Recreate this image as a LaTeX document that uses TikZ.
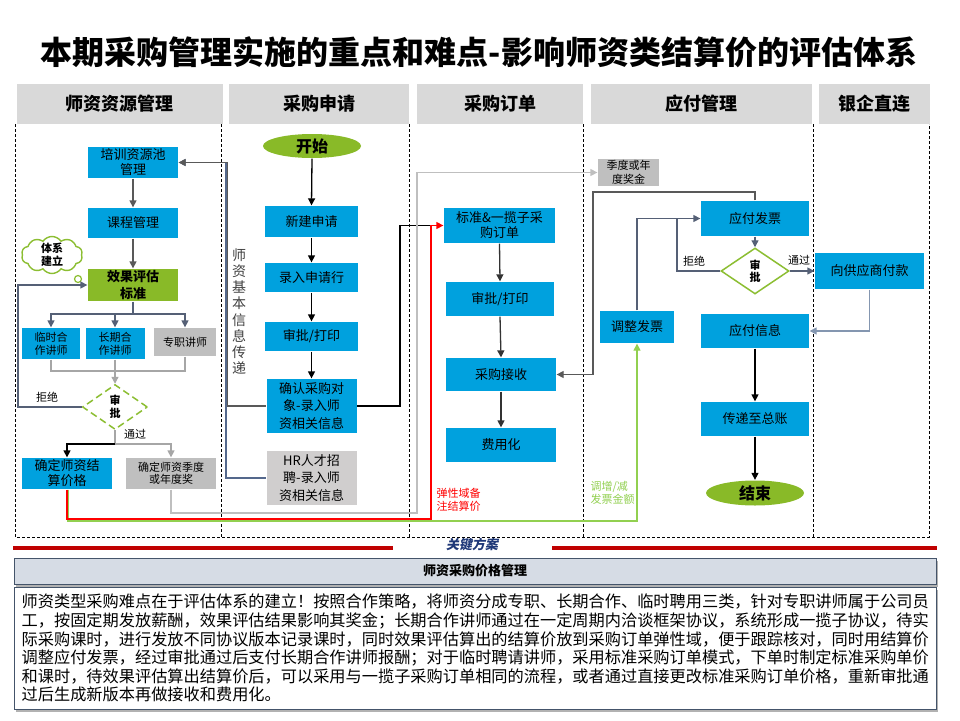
\documentclass[tikz,border=0pt]{standalone}
\usepackage{fontspec}
\setmainfont{Noto Sans CJK SC}
\newfontfamily\cjksl{Noto Sans CJK SC}[FakeSlant=0.2,BoldFeatures={FakeSlant=0.2}]
\usetikzlibrary{arrows.meta,shapes.geometric,shapes.symbols,shadows}
\definecolor{bxblue}{RGB}{0,161,222}
\definecolor{bxgreen}{RGB}{137,186,40}
\definecolor{cgreen}{RGB}{140,190,50}
\definecolor{gybox}{RGB}{191,191,191}
\definecolor{hrgray}{RGB}{208,206,206}
\definecolor{hdrgray}{RGB}{217,217,217}
\definecolor{slate}{RGB}{85,96,118}
\definecolor{slatetwo}{RGB}{84,104,140}
\definecolor{slatethree}{RGB}{132,150,176}
\definecolor{cdg}{RGB}{89,89,89}
\definecolor{lgray}{RGB}{166,166,166}
\definecolor{vlgray}{RGB}{191,191,191}
\definecolor{lgreen}{RGB}{146,208,80}
\definecolor{navy}{RGB}{31,56,120}
\definecolor{darkred}{RGB}{192,0,0}
\definecolor{hbfill}{RGB}{214,220,229}
\definecolor{hbdraw}{RGB}{68,84,106}
\tikzset{
  nb/.style={inner sep=0pt, align=center, text=black},
  bbox/.style={nb, fill=bxblue},
  gbox/.style={nb, fill=gybox},
  fz/.style 2 args={font=\fontsize{#1}{#2}\selectfont},
  fzb/.style 2 args={font=\fontsize{#1}{#2}\selectfont\bfseries},
  wh/.style 2 args={minimum width=#1pt, minimum height=#2pt},
  hdr/.style={nb, fill=hdrgray, wh={#1}{40}, fzb={18}{22}},
  lane/.style={dash pattern=on 3pt off 2pt, line width=0.9pt, black},
  conn/.style={-{Triangle[length=7pt,width=7pt]}},
  lbl/.style={inner sep=0pt, fz={11}{13}, align=left},
  shd/.style={drop shadow={shadow xshift=2pt, shadow yshift=-2.5pt, fill=black!50, opacity=0.6}},
}
\begin{document}
\begin{tikzpicture}[x=1pt,y=-1pt,line width=1.3pt]
\useasboundingbox (0,0) rectangle (960,720);
\fill[white] (0,0) rectangle (960,720);

% title
\node[inner sep=0pt, fzb={32}{36}] (title) at (479,52) {本期采购管理实施的重点和难点-影响师资类结算价的评估体系};

% headers
\node[hdr=206] (h1) at (119.5,103.5) {师资资源管理};
\node[hdr=180] (h2) at (319,103.5) {采购申请};
\node[hdr=166] (h3) at (500,103.5) {采购订单};
\node[hdr=221] (h4) at (701.5,104) {应付管理};
\node[hdr=111] (h5) at (874.5,103.5) {银企直连};

% lanes
\draw[lane] (15,124) -- (15,537) -- (929,537) -- (929,124);
\draw[lane] (221,124) -- (221,537);
\draw[lane] (409,124) -- (409,537);
\draw[lane] (583,124) -- (583,537);
\draw[lane] (813,124) -- (813,537);

% lane 1
\node[bbox, wh={90}{31}, fz={13}{15}] (n1) at (133,162.5) {培训资源池\\管理};
\node[bbox, wh={90}{30}, fz={13}{15}] (n2) at (133,223) {课程管理};
\node[nb, fill=bxgreen, wh={90}{32}, fzb={13}{17}] (n3) at (133,285) {效果评估\\标准};
\node[cloud, cloud puffs=10, cloud puff arc=110, draw=cgreen, fill=white, line width=1.4pt, nb, wh={61}{36}, fzb={11}{13}] (cl) at (52,255) {体系\\建立};
\node[circle, draw=cgreen, fill=white, line width=1.2pt, minimum size=7pt, inner sep=0pt] (cl1) at (78,279) {};
\node[bbox, wh={58}{31}, fz={11}{12.7}] (t1) at (51,343.5) {临时合\\作讲师};
\node[bbox, wh={59}{31}, fz={11}{12.7}] (t2) at (115,343.5) {长期合\\作讲师};
\node[gbox, wh={62}{28}, fz={11}{13}] (t3) at (185,342) {专职讲师};
\node[diamond, draw=cgreen, fill=white, line width=1.5pt, dash pattern=on 7pt off 4pt, nb, wh={65}{45}, fzb={11}{13}] (d1) at (115,407) {审\\批};
\node[bbox, wh={90}{31}, fz={13}{15}] (r1) at (67,473.5) {确定师资结\\算价格};
\node[gbox, wh={90}{31}, fz={11}{12.5}] (r2) at (171,473.5) {确定师资季度\\或年度奖};

% lane 2
\node[ellipse, fill=bxgreen, nb, wh={98}{24}, fzb={16}{18}] (st) at (312,146) {开始};
\node[bbox, wh={93}{31}, fz={13}{15}] (a1) at (311.5,221.5) {新建申请};
\node[bbox, wh={93}{29}, fz={13}{15}] (a2) at (311.5,277.5) {录入申请行};
\node[bbox, wh={93}{29}, fz={13}{15}] (a3) at (311.5,336.5) {审批/打印};
\node[bbox, wh={90}{54}, fz={13}{17.5}] (a4) at (311.5,406) {确认采购对\\象-录入师\\资相关信息};
\node[nb, fill=hrgray, wh={90}{54}, fz={13}{17.5}] (a5) at (311.5,478) {HR人才招\\聘-录入师\\资相关信息};
\node[nb, text=black!75, fz={14}{16.2}] (vt) at (239,311.5) {师\\资\\基\\本\\信\\息\\传\\递};

% lane 3
\node[bbox, wh={111}{35}, fz={13}{15}] (b1) at (499.5,225.5) {标准\&一揽子采\\购订单};
\node[bbox, wh={108}{34}, fz={13}{15}] (b2) at (500,299) {审批/打印};
\node[bbox, wh={110}{33}, fz={13}{15}] (b3) at (501,374.5) {采购接收};
\node[bbox, wh={110}{34}, fz={13}{15}] (b4) at (501,445) {费用化};

% lane 4
\node[gbox, wh={61}{27}, fz={11}{13.5}] (bonus) at (628.5,172.5) {季度或年\\度奖金};
\node[bbox, wh={108}{35}, fz={13}{15}] (c1) at (755,218.5) {应付发票};
\node[diamond, draw=cgreen, fill=white, line width=1.5pt, nb, wh={68}{46}, fzb={11}{12.5}] (d2) at (755,271) {审\\批};
\node[bbox, wh={108}{34}, fz={13}{15}] (c2) at (755,331) {应付信息};
\node[bbox, wh={108}{34}, fz={13}{15}] (c3) at (755,419) {传递至总账};
\node[ellipse, fill=bxgreen, nb, wh={98}{25}, fzb={16}{18}] (en) at (755,493) {结束};
\node[bbox, wh={74}{32}, fz={13}{15}] (c4) at (637,327) {调整发票};

% lane 5
\node[bbox, wh={109}{36}, fz={13}{15}] (e1) at (869.5,271) {向供应商付款};

% labels
\node[lbl] (l1) at (47,397) {拒绝};
\node[lbl] (l2) at (135,434) {通过};
\node[lbl] (l3) at (694,261) {拒绝};
\node[lbl] (l4) at (799,260) {通过};
\node[lbl, text=red, anchor=west] (l5) at (436,499.5) {弹性域备\\注结算价};
\node[lbl, text=lgreen, anchor=west] (l6) at (590,492.5) {调增/减\\发票金额};

% connectors lane 1
\draw[cdg, conn] (n1.south) -- (n2.north);
\draw[cdg, conn] (n2.south) -- (n3.north);
\coordinate (j1) at (133,314);
\draw[slate] (n3.south) -- (j1);
\draw[slate, conn] (j1) -| (t1.north);
\draw[slate, conn] (j1) -| (t3.north);
\draw[slate, conn] (t2.north |- j1) -- (t2.north);
\coordinate (j2) at (115,371);
\draw[lgray] (t1.south) |- (j2);
\draw[lgray] (t3.south) |- (j2);
\draw[lgray, conn] (t2.south) -- (d1.north);
\draw[slate, conn] (d1.west) -| (18,285) -- (n3.west);
\coordinate (j3) at (115,444);
\draw[lgray] (d1.south) -- (j3);
\draw[lgray, conn] (j3) -| (r2.north);
\draw[black, conn] (j3) -| (r1.north);

% lane 2
\draw[black, conn] (st.south) -- (a1.north);
\draw[black, conn] (a1.south) -- (a2.north);
\draw[black, conn] (a2.south) -- (a3.north);
\draw[black, conn] (a3.south) -- (a4.north);
\draw[slatetwo, conn] (a5.west) -- ++(-40,0) |- (n1.east);
\draw[cdg, conn] (a4.west) -- ++(-38.5,0) |- (n1.east);
\coordinate (rj) at (431,225.5);
\draw[black] (a4.east) -| (400,225.5) -- (rj);

% long bottom lines
\draw[lgreen, conn] ([xshift=1pt]r1.south) |- (637,521) -- (c4.south);
\draw[red, conn] (r1.south) |- (431,519) |- (b1.west);
\draw[vlgray, conn] (r2.south) |- (417,513) |- (bonus.west);

% lane 3
\draw[black!80, conn] (b1.south) -- (b2.north);
\draw[black!80, conn] (b2.south) -- (b3.north);
\draw[black!80, conn] (b3.south) -- (b4.north);

% lane 4
\draw[cdg, conn] (c1.north) |- (593,192) |- (b3.east);
\draw[slate, conn] (c4.north) |- (c1.west);
\draw[slate] (d2.west) -| (677,218.5);
\draw[slate, conn] (c1.south) -- (d2.north);
\draw[slate, conn] (d2.east) -- (e1.west);
\draw[slatethree, conn] (e1.south) |- (c2.east);
\draw[black, conn] (c2.south) -- (c3.north);
\draw[black, conn] (c3.south) -- (en.north);

% bottom section
\draw[darkred, line width=4pt] (13,548) -- (393,548);
\draw[darkred, line width=4pt] (552,548) -- (937,548);
\node[inner sep=0pt, text=navy, font=\cjksl\fontsize{13}{15}\selectfont\bfseries] (kf) at (472,545) {关键方案};
\node[nb, fill=hbfill, draw=hbdraw, line width=1pt, wh={922}{26}, fzb={13}{15}, shd] (kh) at (475,571) {师资采购价格管理};
\node[draw=hbdraw, fill=white, line width=1pt, wh={922}{122}, inner sep=0pt, shd] (kb) at (475,648) {};
\begin{scope}[every node/.style={inner sep=0pt, anchor=base west, fz={16.2}{18.6}}]
\node (p1) at (21,607.8) {师资类型采购难点在于评估体系的建立！按照合作策略，将师资分成专职、长期合作、临时聘用三类，针对专职讲师属于公司员};
\node (p2) at (21,626.4) {工，按固定期发放薪酬，效果评估结果影响其奖金；长期合作讲师通过在一定周期内洽谈框架协议，系统形成一揽子协议，待实};
\node (p3) at (21,645.0) {际采购课时，进行发放不同协议版本记录课时，同时效果评估算出的结算价放到采购订单弹性域，便于跟踪核对，同时用结算价};
\node (p4) at (21,663.6) {调整应付发票，经过审批通过后支付长期合作讲师报酬；对于临时聘请讲师，采用标准采购订单模式，下单时制定标准采购单价};
\node (p5) at (21,682.2) {和课时，待效果评估算出结算价后，可以采用与一揽子采购订单相同的流程，或者通过直接更改标准采购订单价格，重新审批通};
\node (p6) at (21,700.8) {过后生成新版本再做接收和费用化。};
\end{scope}
\end{tikzpicture}
\end{document}
